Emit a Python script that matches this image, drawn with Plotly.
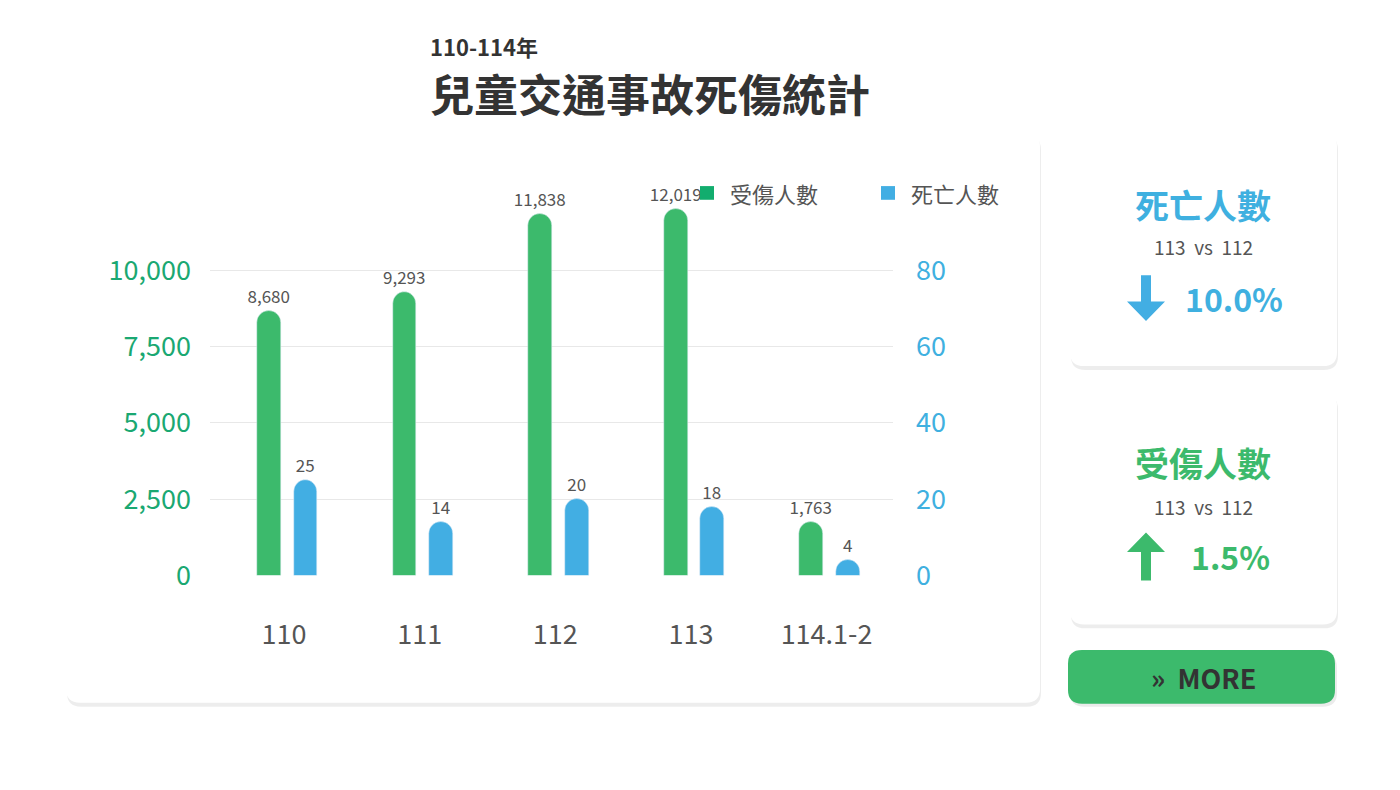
import plotly.graph_objects as go

years = ["110", "111", "112", "113", "114.1-2"]
injured = [8680, 9293, 11838, 12019, 1763]
deaths = [25, 14, 20, 18, 4]
left_ticks = [0, 2500, 5000, 7500, 10000]
right_ticks = [0, 20, 40, 60, 80]

GREEN = "#3cba6c"
BLUE = "#42aee3"
GTXT = "#1aa872"
BTXT = "#3fb0e0"
FONT = "Noto Sans CJK TC"
W, H = 1400, 790
OFF = 8  # default body margin of the html page

def px(x): return (x - OFF) / W
def py(y): return 1 - (y - OFF) / H

def rrect(x0, y0, x1, y1, r):
    X0, X1 = px(x0), px(x1)
    Y0, Y1 = py(y0), py(y1)
    rx, ry = r / W, r / H
    return (f"M{X0+rx},{Y0} L{X1-rx},{Y0} Q{X1},{Y0} {X1},{Y0-ry} L{X1},{Y1+ry} "
            f"Q{X1},{Y1} {X1-rx},{Y1} L{X0+rx},{Y1} Q{X0},{Y1} {X0},{Y1+ry} "
            f"L{X0},{Y0-ry} Q{X0},{Y0} {X0+rx},{Y0} Z")

xs = list(range(len(years)))
fig = go.Figure()
fig.add_bar(x=xs, y=injured, width=0.175, offset=-0.2, marker=dict(color=GREEN, cornerradius=12),
            text=[f"{v:,}" for v in injured], textposition="outside", constraintext="none",
            textfont=dict(size=17, color="#555555", family=FONT), cliponaxis=False,
            yaxis="y", showlegend=False)
fig.add_bar(x=xs, y=deaths, width=0.175, offset=0.07, marker=dict(color=BLUE, cornerradius=12),
            text=[str(v) for v in deaths], textposition="outside", constraintext="none",
            textfont=dict(size=17, color="#555555", family=FONT), cliponaxis=False,
            yaxis="y2", showlegend=False)

ytop = 200
lmax = (588 - ytop) / 312 * 10000
rmax = (588 - ytop) / 312 * 80

shapes = []
for (x0, y0, x1, y1) in [(66, 136, 1040, 718), (1070, 136, 1337, 374), (1070, 401, 1337, 638)]:
    shapes.append(dict(type="path", path=rrect(x0+1, y0+3, x1+1, y1+4, 14), xref="paper", yref="paper",
                       fillcolor="rgba(0,0,0,0.07)", line=dict(width=0), layer="below"))
    shapes.append(dict(type="path", path=rrect(x0, y0, x1, y1, 14), xref="paper", yref="paper",
                       fillcolor="white", line=dict(width=0), layer="below"))
shapes.append(dict(type="path", path=rrect(1070, 668, 1337, 722, 14), xref="paper", yref="paper",
                   fillcolor="rgba(0,0,0,0.08)", line=dict(width=0)))
shapes.append(dict(type="path", path=rrect(1068, 664, 1335, 719, 14), xref="paper", yref="paper",
                   fillcolor=GREEN, line=dict(width=0)))
shapes.append(dict(type="rect", xref="paper", yref="paper", x0=px(700), x1=px(714), y0=py(190), y1=py(204),
                   fillcolor="#12ad6e", line=dict(width=0)))
shapes.append(dict(type="rect", xref="paper", yref="paper", x0=px(881), x1=px(895), y0=py(190), y1=py(204),
                   fillcolor=BLUE, line=dict(width=0)))

def poly(pts, color):
    return dict(type="path", xref="paper", yref="paper", fillcolor=color, line=dict(width=0),
                path="M" + " L".join(f"{px(a)},{py(b)}" for a, b in pts) + " Z")
def arrow_down(cx, t, b, color):
    return poly([(cx-5, t), (cx+5, t), (cx+5, b-20), (cx+19, b-20), (cx, b), (cx-19, b-20), (cx-5, b-20)], color)
def arrow_up(cx, t, b, color):
    return poly([(cx-5, b), (cx+5, b), (cx+5, t+20), (cx+19, t+20), (cx, t), (cx-19, t+20), (cx-5, t+20)], color)
shapes.append(arrow_down(1146, 281, 328, BLUE))
shapes.append(arrow_up(1146, 544, 593, GREEN))

def ann(x, y, text, size, color, bold=False, xanchor="center"):
    return dict(x=px(x), y=py(y), xref="paper", yref="paper", text=f"<b>{text}</b>" if bold else text,
                showarrow=False, xanchor=xanchor, yanchor="middle",
                font=dict(size=size, color=color, family=FONT))

annotations = [
    ann(428, 47, "110-114年", 22, "#333333", True, "left"),
    ann(428, 95, "兒童交通事故死傷統計", 44, "#333333", True, "left"),
    ann(728, 197, "受傷人數", 22, "#555555", False, "left"),
    ann(909, 197, "死亡人數", 22, "#555555", False, "left"),
    ann(1203, 209, "死亡人數", 34, BTXT, True),
    ann(1203, 252, "113  vs  112", 19, "#555555"),
    ann(1234, 304, "10.0%", 32, BTXT, True),
    ann(1203, 473, "受傷人數", 34, GREEN, True),
    ann(1203, 517, "113  vs  112", 19, "#555555"),
    ann(1230, 568, "1.5%", 32, GREEN, True),
    ann(1203, 692, "»  MORE", 27, "#333333", True),
]

fig.update_layout(
    width=W, height=H, margin=dict(l=0, r=0, t=0, b=0),
    paper_bgcolor="white", plot_bgcolor="rgba(0,0,0,0)",
    font=dict(family=FONT),
    shapes=shapes, annotations=annotations, bargap=0,
    xaxis=dict(domain=[px(210), px(893)], range=[-0.546, 4.49], tickmode="array",
               tickvals=xs, ticktext=years, showgrid=False, zeroline=False, showline=False,
               tickfont=dict(size=27, color="#555555"), ticks="", ticklabelstandoff=40),
    yaxis=dict(domain=[py(588), py(ytop)], range=[0, lmax], tickvals=left_ticks,
               ticktext=[f"{v:,}" for v in left_ticks], tickfont=dict(size=27, color=GTXT),
               gridcolor="#e8e8e8", zeroline=False, showline=False, ticklabelstandoff=18),
    yaxis2=dict(overlaying="y", side="right", range=[0, rmax], tickvals=right_ticks,
                tickfont=dict(size=27, color=BTXT), showgrid=False, zeroline=False,
                ticklabelstandoff=22),
)
fig.write_html("out.html")
